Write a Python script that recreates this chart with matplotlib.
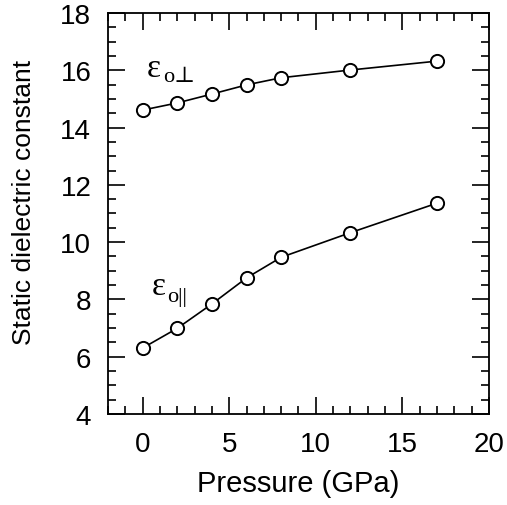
import numpy as np
import matplotlib.pyplot as plt
from matplotlib.ticker import MultipleLocator

plt.rcParams['font.family'] = ['Liberation Sans', 'DejaVu Sans']

# pressure points (GPa)
pressure = [0, 2, 4, 6, 8, 12, 17]
# static dielectric constant, perpendicular and parallel
eps_perp = [14.61, 14.86, 15.17, 15.49, 15.74, 16.01, 16.32]
eps_par = [6.30, 6.99, 7.84, 8.75, 9.47, 10.33, 11.36]

fig = plt.figure(figsize=(5.07, 5.06), dpi=100)
ax = fig.add_axes([0.213, 0.180, 0.7515, 0.7923])

for ys in (eps_perp, eps_par):
    ax.plot(pressure, ys, color='black', lw=1.2, marker='o', ms=9.5,
            mfc='white', mec='black', mew=1.4)

serif = ['Liberation Serif', 'DejaVu Serif']
ax.text(0.25, 15.8, 'ε', fontsize=24, family=serif, va='baseline', ha='left')
ax.text(1.18, 15.63, 'o⊥', fontsize=16, family=serif, va='baseline', ha='left')
ax.text(0.52, 8.19, 'ε', fontsize=24, family=serif, va='baseline', ha='left')
ax.text(1.41, 7.95, 'o||', fontsize=16, family=serif, va='baseline', ha='left')

ax.set_xlim(-2, 20)
ax.set_ylim(4, 18)
ax.xaxis.set_major_locator(MultipleLocator(5))
ax.xaxis.set_minor_locator(MultipleLocator(1))
ax.yaxis.set_major_locator(MultipleLocator(2))
ax.yaxis.set_minor_locator(MultipleLocator(0.5))
ax.tick_params(which='both', direction='in', top=True, right=True, width=1.2)
ax.tick_params(which='major', length=12, labelsize=20, pad=12)
ax.tick_params(which='minor', length=6)
for s in ax.spines.values():
    s.set_linewidth(1.3)

ax.set_xlabel('Pressure (GPa)', fontsize=21, labelpad=9)
ax.set_ylabel('Static dielectric constant', fontsize=19)
ax.yaxis.set_label_coords(-0.19, 0.53)

fig.savefig('out.png', dpi=100)
